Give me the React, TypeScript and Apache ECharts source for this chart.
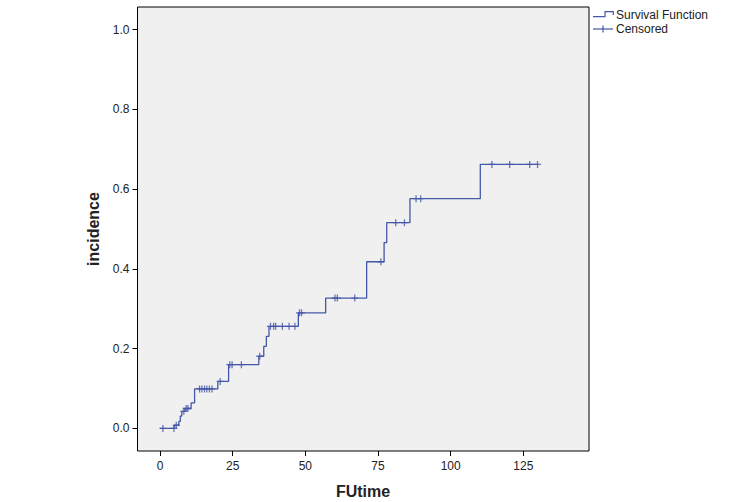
import React, { useEffect, useRef } from "react";
import * as echarts from "echarts";

// Step points of the cumulative incidence curve (time, incidence)
const stepTimes = [0, 5, 6.5, 7, 7.5, 8.6, 10.7, 11.9, 19.9, 23.6, 34, 35.7, 36.6, 37.5, 47.6, 57, 71.1, 77.1, 78, 86, 110.2, 130];
const stepValues = [0, 0.008, 0.018, 0.031, 0.043, 0.05, 0.064, 0.099, 0.118, 0.16, 0.181, 0.206, 0.231, 0.256, 0.29, 0.327, 0.418, 0.466, 0.516, 0.576, 0.662, 0.662];

// Censored observations (time, incidence)
const censTimes = [1, 4.8, 5.6, 8.2, 9.0, 9.6, 13.6, 14.4, 15.3, 16.1, 17, 17.9, 20.7, 24, 24.8, 28, 34.3, 38, 39.1, 39.8, 42.1, 44.4, 46.4, 48, 48.7, 60.2, 61, 67, 76, 81.1, 84.1, 88.1, 89.7, 114.2, 120.3, 127.2, 129.9];
const censValues = [0, 0, 0.008, 0.043, 0.05, 0.05, 0.099, 0.099, 0.099, 0.099, 0.099, 0.099, 0.118, 0.16, 0.16, 0.16, 0.181, 0.256, 0.256, 0.256, 0.256, 0.256, 0.256, 0.29, 0.29, 0.327, 0.327, 0.327, 0.418, 0.516, 0.516, 0.576, 0.576, 0.662, 0.662, 0.662, 0.662];

const xTicks = [0, 25, 50, 75, 100, 125];
const yTicks = [0, 0.2, 0.4, 0.6, 0.8, 1.0];

const legendLabels = ["Survival Function", "Censored"];
const xAxisTitle = "FUtime";
const yAxisTitle = "incidence";

const LINE = "#4558a8";
const FONT = "Arial, 'Liberation Sans', sans-serif";

export default function App() {
  const ref = useRef<HTMLDivElement>(null);
  useEffect(() => {
    if (!ref.current) return;
    const chart = echarts.init(ref.current, null, { renderer: "svg" });
    const stepData = stepTimes.map((t, i) => [t, stepValues[i]]);
    const censData = censTimes.map((t, i) => [t, censValues[i]]);
    chart.setOption({
      animation: false,
      backgroundColor: "#ffffff",
      grid: {
        left: 137.5,
        right: 161,
        top: 7,
        bottom: 51,
        show: true,
        backgroundColor: "#f0f0f0",
        borderColor: "#000000",
        borderWidth: 1,
      },
      xAxis: {
        type: "value",
        min: -7.74,
        max: 147.6,
        splitLine: { show: false },
        axisLine: { show: false, onZero: false },
        axisTick: { show: true, length: 5, lineStyle: { color: "#000" }, customValues: xTicks },
        axisLabel: {
          customValues: xTicks,
          margin: 9,
          color: "#222",
          fontSize: 12,
          fontFamily: FONT,
        },
      },
      yAxis: {
        type: "value",
        min: -0.0565,
        max: 1.0566,
        splitLine: { show: false },
        axisLine: { show: false, onZero: false },
        axisTick: { show: true, length: 5, lineStyle: { color: "#000" }, customValues: yTicks },
        axisLabel: {
          customValues: yTicks,
          margin: 8,
          color: "#222",
          fontSize: 12,
          fontFamily: FONT,
          formatter: (v: number) => v.toFixed(1),
        },
      },
      series: [
        {
          name: legendLabels[0],
          type: "line",
          step: "end",
          data: stepData,
          showSymbol: false,
          lineStyle: { color: LINE, width: 1.3 },
          z: 2,
        },
        {
          name: legendLabels[1],
          type: "scatter",
          data: censData,
          symbol: "path://M5,0L5,10M0,5L10,5",
          symbolSize: 7,
          itemStyle: { color: "transparent", borderColor: LINE, borderWidth: 1.3 },
          z: 3,
        },
      ],
      graphic: [
        {
          type: "polyline",
          shape: { points: [[593, 16.7], [605, 16.7], [605, 11.7], [613.3, 11.7], [613.3, 15]] },
          style: { stroke: LINE, lineWidth: 1.2, fill: null },
        },
        {
          type: "text",
          x: 616,
          y: 15,
          style: { text: legendLabels[0], font: `12px ${FONT}`, fill: "#222", textVerticalAlign: "middle" },
        },
        {
          type: "line",
          shape: { x1: 593, y1: 29, x2: 613, y2: 29 },
          style: { stroke: LINE, lineWidth: 1.2 },
        },
        {
          type: "line",
          shape: { x1: 603, y1: 25.5, x2: 603, y2: 32.5 },
          style: { stroke: LINE, lineWidth: 1.2 },
        },
        {
          type: "text",
          x: 616,
          y: 29,
          style: { text: legendLabels[1], font: `12px ${FONT}`, fill: "#222", textVerticalAlign: "middle" },
        },
        {
          type: "text",
          x: 363,
          y: 491,
          style: { text: xAxisTitle, font: `bold 16px ${FONT}`, fill: "#222", textAlign: "center", textVerticalAlign: "middle" },
        },
        {
          type: "text",
          x: 93,
          y: 229,
          rotation: Math.PI / 2,
          style: { text: yAxisTitle, font: `bold 16px ${FONT}`, fill: "#222", textAlign: "center", textVerticalAlign: "middle" },
        },
      ],
    });
    return () => chart.dispose();
  }, []);
  return (
    <div
      ref={ref}
      style={{ position: "fixed", left: 0, top: 0, width: 750, height: 502 }}
    />
  );
}
